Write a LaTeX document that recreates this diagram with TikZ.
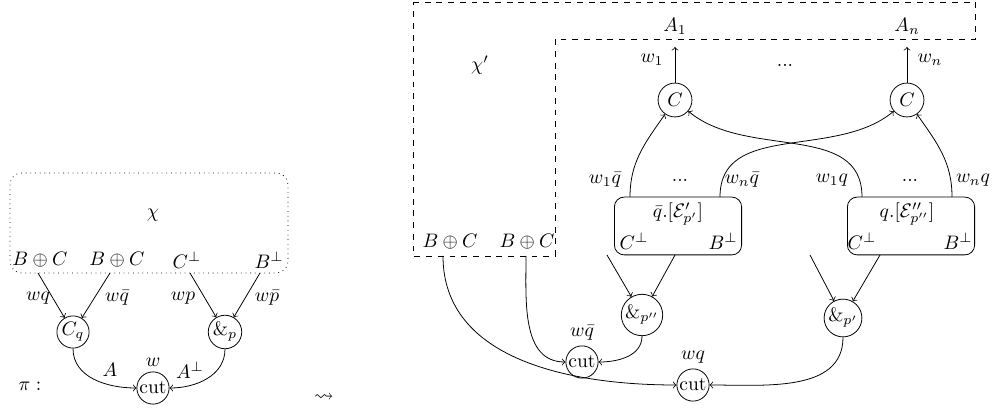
\documentclass[tikz,border=0pt]{standalone}
\usepackage{amssymb}
\usetikzlibrary{positioning}

\begin{document}
\begin{tikzpicture}[>=to,x=0.18mm,y=-0.18mm,
	ball/.style={draw,circle,inner sep=0.5pt,minimum size=5.4mm},
	proc/.style={draw,rounded corners=5pt,minimum width=22.9mm,minimum height=10.4mm}]
			\useasboundingbox (0,0) rectangle (996,408);
			% Left net
			\draw[dotted,rounded corners=6pt] (10,173) rectangle (288,273);
			\node (chi) at (153,215) {$\chi$};
			\node (b1) at (40,260) {$B\oplus C$};
			\node (b2) at (117,260) {$B\oplus C$};
			\node (c3) at (187,260) {$C^\perp$};
			\node (b4) at (269,260) {$B^\perp$};
			\node[ball] (cq) at (73,332) {$C_q$};
			\node[ball] (wp) at (225,332) {$\&_p$};
			\node[ball] (cut) at (153,388) {cut};
			\coordinate (t1) at (38,273);
			\coordinate (t2) at (110,273);
			\coordinate (t3) at (190,273);
			\coordinate (t4) at (260,273);
			\draw[->] (t1) -- (cq);
			\draw[->] (t2) -- (cq);
			\draw[->] (t3) -- (wp);
			\draw[->] (t4) -- (wp);
			\draw[->] (cq.south) to[out=-90,in=180] (cut.west);
			\draw[->] (wp.south) to[out=-90,in=0] (cut.east);
			% Labels
			\node (l1) at (38,298) {$wq$};
			\node (l2) at (117,298) {$w\bar{q}$};
			\node (l3) at (183,298) {$wp$};
			\node (l4) at (267,298) {$w\bar{p}$};
			\node (la) at (110,370) {$A$};
			\node (lw) at (153,362) {$w$};
			\node (lab) at (190,370) {$A^\perp$};
			\node (pi) at (30,386) {$\pi:$};
			\node (step) at (324,398) {$\leadsto$};
			
			% Right net
			\draw[dashed] (413,2) -- (975,2) -- (975,39) -- (555,39) -- (555,256) -- (413,256) -- cycle;
			\node (chip) at (480,65) {$\chi'$};
			\node (bb1) at (450,242) {$B\oplus C$};
			\node (bb2) at (527,242) {$B\oplus C$};
			\node (a1) at (675,26) {$A_1$};
			\node (an) at (907,26) {$A_n$};
			\node (dots0) at (785,65) {...};
			\node[ball,minimum size=6.1mm] (c1) at (675,100) {$C$};
			\node[ball,minimum size=6.1mm] (cn) at (907,100) {$C$};
			\coordinate (o1) at (675,47);
			\coordinate (on) at (907,47);
			\draw[->] (c1) -- (o1);
			\draw[->] (cn) -- (on);
			\node (w1) at (652,60) {$w_1$};
			\node (wn) at (930,60) {$w_n$};
			% boxes
			\node[proc] (box1) at (678,226) {};
			\node[proc] (box2) at (911,226) {};
			\node (e1) at (678,214) {$\bar{q}.[\mathcal{E}'_{p'}]$};
			\node (e2) at (907,214) {$q.[\mathcal{E}''_{p''}]$};
			\node (cp1) at (634,241) {$C^\perp$};
			\node (bp1) at (723,241) {$B^\perp$};
			\node (cp2) at (862,241) {$C^\perp$};
			\node (bp2) at (958,241) {$B^\perp$};
			\coordinate (s1) at (630,197);
			\coordinate (s2) at (720,197);
			\coordinate (s3) at (862,197);
			\coordinate (s4) at (952,197);
			\draw[->] (s1) to[out=90,in=-125] (c1);
			\draw[->] (s2) to[out=90,in=-140] (cn);
			\draw[->] (s3) to[out=90,in=-40] (c1);
			\draw[->] (s4) to[out=90,in=-55] (cn);
			\node (m1) at (605,180) {$w_1\bar{q}$};
			\node (dots1) at (680,180) {...};
			\node (m2) at (742,180) {$w_n\bar{q}$};
			\node (m3) at (832,180) {$w_1q$};
			\node (dots2) at (910,180) {...};
			\node (m4) at (973,180) {$w_nq$};
			% pars and cuts
			\node[ball] (wp2) at (642,315) {$\&_{p''}$};
			\node[ball] (wp1) at (843,318) {$\&_{p'}$};
			\coordinate (d1) at (607,255);
			\coordinate (d2) at (675,255);
			\coordinate (d3) at (810,255);
			\coordinate (d4) at (880,255);
			\draw[->] (d1) -- (wp2);
			\draw[->] (d2) -- (wp2);
			\draw[->] (d3) -- (wp1);
			\draw[->] (d4) -- (wp1);
			\node[ball] (cut1) at (582,362) {cut};
			\node[ball] (cut2) at (693,385) {cut};
			\node (lc1) at (582,333) {$w\bar{q}$};
			\node (lc2) at (693,357) {$wq$};
			\coordinate (g1) at (443,256);
			\coordinate (g2) at (526,256);
			\draw[->] (g2) to[out=-90,in=180] (cut1.west);
			\draw[->] (wp2.south) to[out=-90,in=0] (cut1.east);
			\draw[->] (g1) to[out=-90,in=180] (cut2.west);
			\draw[->] (wp1.south) to[out=-90,in=0] (cut2.east);
		\end{tikzpicture}
\end{document}
